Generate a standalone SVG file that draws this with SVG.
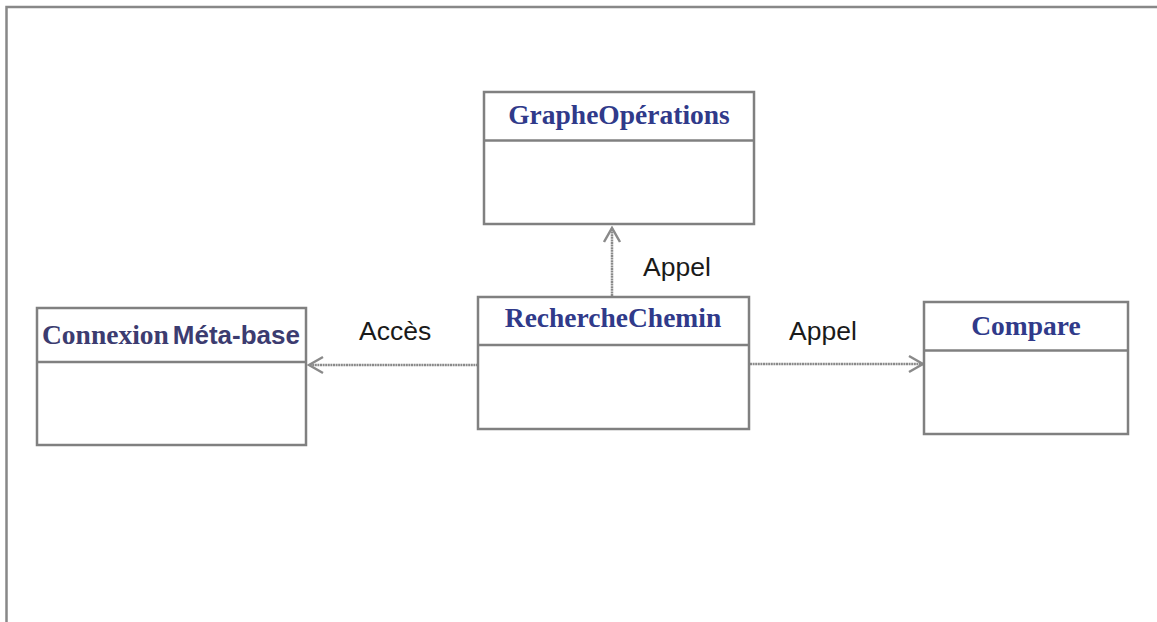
<svg xmlns="http://www.w3.org/2000/svg" width="1157" height="622" viewBox="0 0 1157 622">
  <style>
    .box { fill: #ffffff; stroke: #808080; stroke-width: 2.5; }
    .div { stroke: #808080; stroke-width: 2.5; }
    .title { font-family: "Liberation Serif", "DejaVu Serif", serif; font-weight: bold; font-size: 27.5px; fill: #303a8a; text-anchor: middle; }
    .sans { font-family: "Liberation Sans", Arial, sans-serif; }
    .label { font-family: "Liberation Sans", Arial, sans-serif; font-size: 26.5px; fill: #1a1a1a; }
    .link { fill: none; stroke: #8a8a8a; stroke-width: 2.5; stroke-dasharray: 2 0.6; }
  </style>
  <defs>
    <marker id="open" viewBox="0 0 18 20" refX="16" refY="10" markerWidth="18" markerHeight="20" markerUnits="userSpaceOnUse" orient="auto">
      <path d="M2,2 L16,10 L2,18" fill="none" stroke="#8a8a8a" stroke-width="2.5"/>
    </marker>
  </defs>
  <rect width="1157" height="622" fill="#ffffff"/>
  <!-- outer frame -->
  <path d="M6.5,622 V7 H1157" fill="none" stroke="#888888" stroke-width="2.5"/>

  <g id="connectors">
    <line class="link" x1="612" y1="296" x2="612" y2="228" marker-end="url(#open)"/>
    <line class="link" x1="478" y1="365" x2="309" y2="365" marker-end="url(#open)"/>
    <line class="link" x1="750" y1="364" x2="923" y2="364" marker-end="url(#open)"/>
    <text class="label" x="643" y="276">Appel</text>
    <text class="label" x="359" y="340">Accès</text>
    <text class="label" x="789" y="340">Appel</text>
  </g>

  <g id="graphe-operations">
    <rect class="box" x="484" y="92" width="270" height="132"/>
    <line class="div" x1="484" y1="140.5" x2="754" y2="140.5"/>
    <text class="title" x="619" y="124">GrapheOpérations</text>
  </g>

  <g id="connexion-meta-base">
    <rect class="box" x="37" y="308" width="269" height="137"/>
    <line class="div" x1="37" y1="362" x2="306" y2="362"/>
    <text class="title" x="42" y="344" style="text-anchor:start; fill:#3c3c70;">Connexion<tspan class="sans" dx="4" style="font-size:26px;">Méta-base</tspan></text>
  </g>

  <g id="recherche-chemin">
    <rect class="box" x="478" y="297" width="271" height="132"/>
    <line class="div" x1="478" y1="345" x2="749" y2="345"/>
    <text class="title" x="613" y="327">RechercheChemin</text>
  </g>

  <g id="compare">
    <rect class="box" x="924" y="302" width="204" height="132"/>
    <line class="div" x1="924" y1="350.5" x2="1128" y2="350.5"/>
    <text class="title" x="1026" y="335">Compare</text>
  </g>
</svg>
